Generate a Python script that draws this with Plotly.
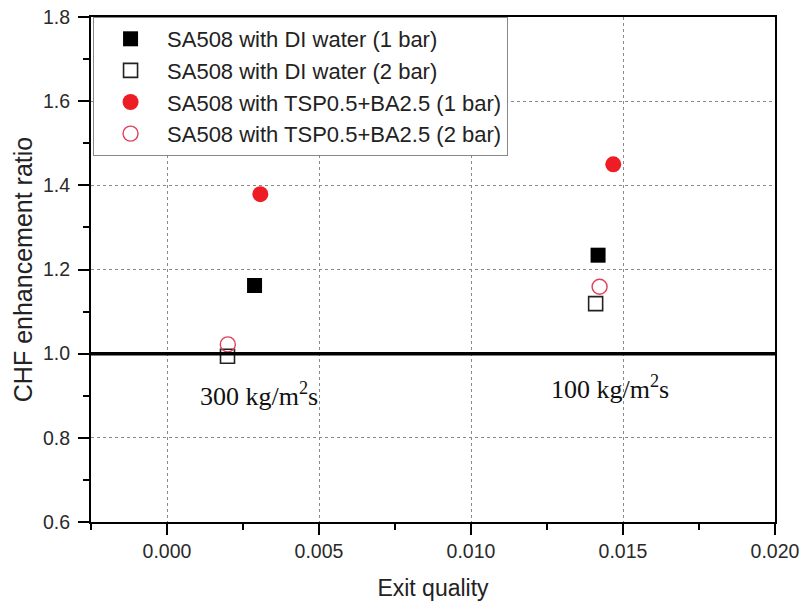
import plotly.graph_objects as go

# Data
series_names = [
    "SA508 with DI water (1 bar)",
    "SA508 with DI water (2 bar)",
    "SA508 with TSP0.5+BA2.5 (1 bar)",
    "SA508 with TSP0.5+BA2.5 (2 bar)",
]
di_1bar_x = [0.00288, 0.01418]
di_1bar_y = [1.162, 1.234]
di_2bar_x = [0.00199, 0.01410]
di_2bar_y = [0.994, 1.119]
tsp_1bar_x = [0.00307, 0.01468]
tsp_1bar_y = [1.379, 1.450]
tsp_2bar_x = [0.00200, 0.01423]
tsp_2bar_y = [1.022, 1.159]

reference_ratio = 1.0
flux_labels = ["300 kg/m<sup>2</sup>s", "100 kg/m<sup>2</sup>s"]
flux_label_x = [0.00302, 0.01458]
flux_label_y = [0.902, 0.919]

SANS = "Liberation Sans, Arial, sans-serif"
SERIF = "Liberation Serif, Times New Roman, serif"

fig = go.Figure()

styles = [
    dict(symbol="square", color="black", lw=0),
    dict(symbol="square-open", color="#222222", lw=1.6),
    dict(symbol="circle", color="#ee1c25", lw=0),
    dict(symbol="circle-open", color="#e0405a", lw=1.4),
]
xs = [di_1bar_x, di_2bar_x, tsp_1bar_x, tsp_2bar_x]
ys = [di_1bar_y, di_2bar_y, tsp_1bar_y, tsp_2bar_y]
sizes = [15, 14, 16, 15]

fig.add_shape(type="line", xref="paper", x0=0, x1=1, yref="y",
              y0=reference_ratio, y1=reference_ratio,
              line=dict(color="black", width=3.5), layer="above")

for name, x, y, st, sz in zip(series_names, xs, ys, styles, sizes):
    fig.add_trace(go.Scatter(
        x=x, y=y, mode="markers", name=name,
        marker=dict(symbol=st["symbol"], color=st["color"], size=sz,
                    line=dict(color=st["color"], width=st["lw"])),
    ))

for txt, ax, ay in zip(flux_labels, flux_label_x, flux_label_y):
    fig.add_annotation(x=ax, y=ay, text=txt, showarrow=False,
                       font=dict(family=SERIF, size=26, color="#111111"))

axis_common = dict(
    showline=True, linecolor="black", linewidth=2, mirror=True,
    ticks="outside", ticklen=11, tickwidth=2, tickcolor="black",
    showgrid=True, gridcolor="#8a8a8a", griddash="dot", gridwidth=1,
    zeroline=False, automargin=False,
    tickfont=dict(family=SANS, size=19.5, color="#2a2a2a"),
)

fig.update_xaxes(
    range=[-0.0025, 0.020], tick0=0, dtick=0.005, tickformat=".3f",
    minor=dict(dtick=0.0025, tick0=0, ticks="outside", ticklen=6, tickwidth=2,
               tickcolor="black", showgrid=False),
    title=dict(text="Exit quality", font=dict(family=SANS, size=23, color="#222222"), standoff=18),
    **axis_common,
)
fig.update_yaxes(
    range=[0.6, 1.8], tick0=0.6, dtick=0.2, tickformat=".1f",
    minor=dict(dtick=0.1, tick0=0.6, ticks="outside", ticklen=6, tickwidth=2,
               tickcolor="black", showgrid=False),
    title=dict(text="CHF enhancement ratio", font=dict(family=SANS, size=25, color="#222222"), standoff=3),
    ticklabelstandoff=4,
    **axis_common,
)

fig.update_layout(
    width=803, height=601,
    margin=dict(l=91, r=28, t=17, b=79),
    plot_bgcolor="white", paper_bgcolor="white",
    showlegend=True,
    legend=dict(x=0.003, y=1, xanchor="left", yanchor="top",
                bgcolor="white", bordercolor="#888888", borderwidth=1,
                font=dict(family=SANS, size=22, color="#222222"),
                itemsizing="trace", itemwidth=63, tracegroupgap=0),
)

fig.write_html("out.html", config={"displayModeBar": False},
               post_script="document.body.style.margin='0px';")
